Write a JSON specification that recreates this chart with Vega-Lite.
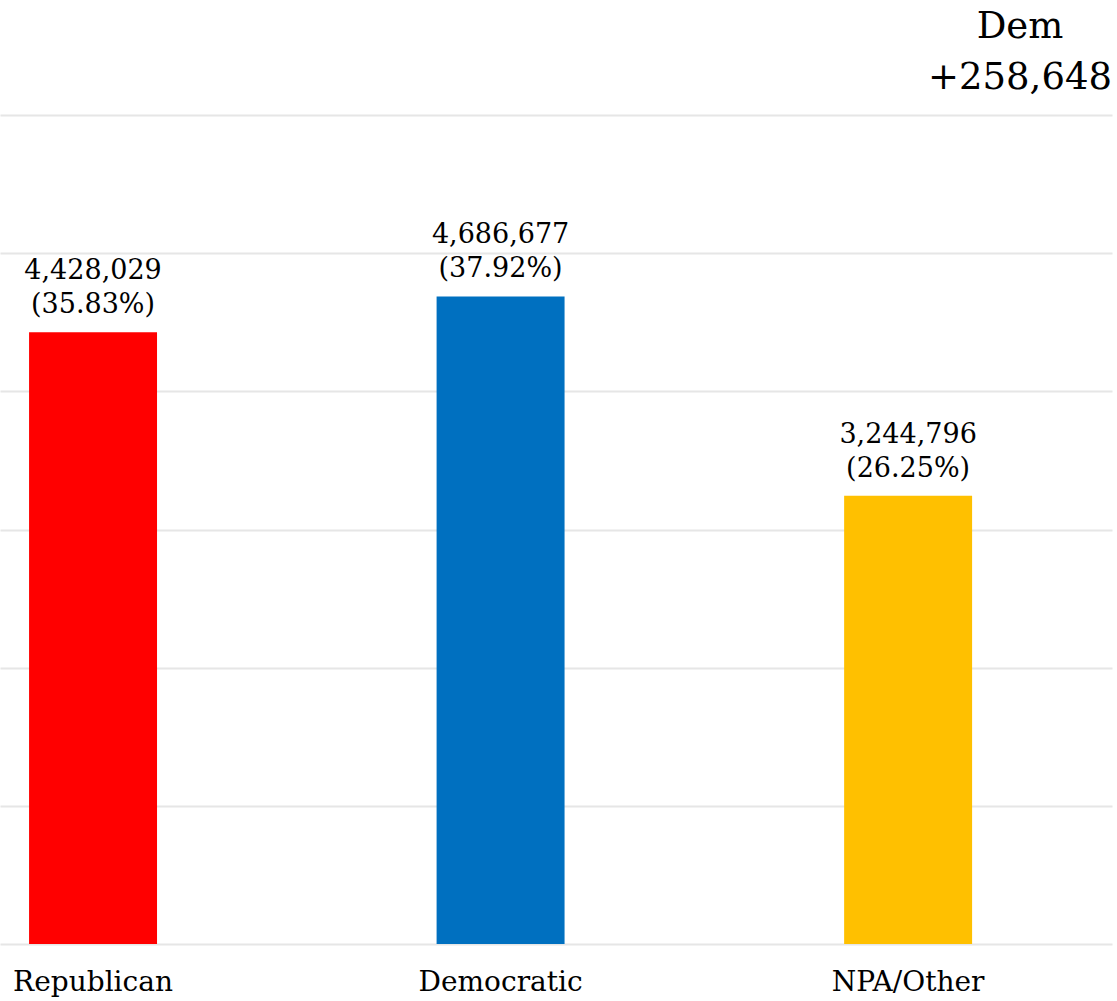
{
  "$schema": "https://vega.github.io/schema/vega-lite/v6.json",
  "width": 1112,
  "height": 829,
  "autosize": {"type": "none"},
  "padding": {"top": 115, "left": 0, "right": 5, "bottom": 57},
  "background": "white",
  "config": {"view": {"stroke": null}, "font": "DejaVu Serif"},
  "title": {
    "text": ["Dem", "+258,648"],
    "anchor": "end",
    "align": "center",
    "dx": -92,
    "offset": 18,
    "fontSize": 37,
    "fontWeight": "normal",
    "font": "DejaVu Serif",
    "lineHeight": 51,
    "color": "#000000"
  },
  "data": {
    "values": [
      {"party": "Republican", "voters": 4428029, "pct": 35.83},
      {"party": "Democratic", "voters": 4686677, "pct": 37.92},
      {"party": "NPA/Other", "voters": 3244796, "pct": 26.25}
    ]
  },
  "transform": [
    {"calculate": "[format(datum.voters, ','), '(' + format(datum.pct, '.2f') + '%)']", "as": "label"}
  ],
  "encoding": {
    "x": {
      "field": "party",
      "type": "nominal",
      "sort": ["Republican", "Democratic", "NPA/Other"],
      "scale": {"paddingInner": 0.686, "paddingOuter": 0.2073, "align": 0.172},
      "axis": {
        "title": null,
        "labelAngle": 0,
        "ticks": false,
        "domain": false,
        "labelFontSize": 28,
        "labelFont": "DejaVu Serif",
        "labelColor": "#000000",
        "labelPadding": 24,
        "grid": false
      }
    },
    "y": {
      "field": "voters",
      "type": "quantitative",
      "scale": {"domain": [0, 6000000], "nice": false},
      "axis": {
        "title": null,
        "labels": false,
        "ticks": false,
        "domain": false,
        "grid": true,
        "gridColor": "#e6e6e6",
        "gridWidth": 2,
        "values": [0, 1000000, 2000000, 3000000, 4000000, 5000000, 6000000]
      }
    }
  },
  "layer": [
    {
      "mark": {"type": "bar"},
      "encoding": {
        "color": {
          "field": "party",
          "type": "nominal",
          "scale": {"domain": ["Republican", "Democratic", "NPA/Other"], "range": ["#ff0000", "#0070c0", "#ffc000"]},
          "legend": null
        }
      }
    },
    {
      "mark": {"type": "text", "baseline": "bottom", "dy": -47, "fontSize": 27, "lineHeight": 34, "color": "#000000", "font": "DejaVu Serif"},
      "encoding": {"text": {"field": "label"}}
    }
  ]
}
